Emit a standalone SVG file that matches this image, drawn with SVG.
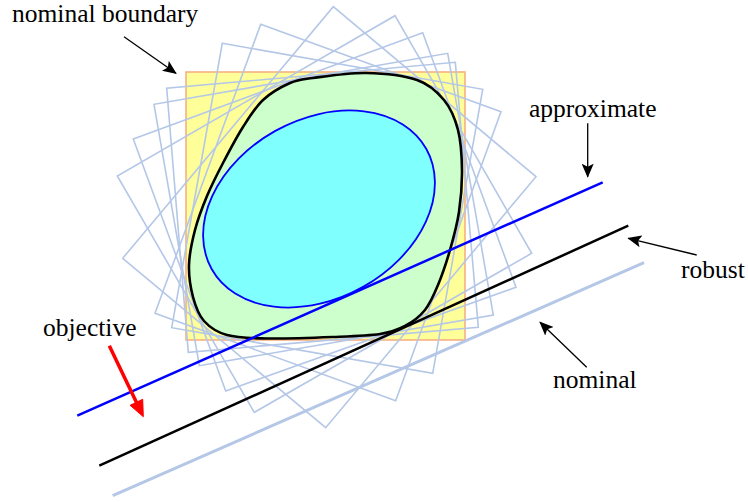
<svg xmlns="http://www.w3.org/2000/svg" width="748" height="502" viewBox="0 0 748 502">
<style>
.rot{fill:none;stroke:#b4c7e7;stroke-width:1.6;stroke-linejoin:miter}
.ptr{stroke:#000;stroke-width:1.3;fill:none}
text{font-family:"Liberation Serif","DejaVu Serif","Times New Roman",Times,serif;font-size:25.5px;fill:#000}
</style>
<defs>
<marker id="ah" markerUnits="userSpaceOnUse" markerWidth="14" markerHeight="12" viewBox="0 0 14 12" refX="13" refY="6" orient="auto">
<path d="M0,0 L14,6 L0,12 L3,6 Z" fill="#000"/>
</marker>
</defs>
<g id="nominal-set">
<rect x="186" y="72" width="279" height="268" fill="#ffff99" stroke="#f4b183" stroke-width="1.6"/>
</g>
<g id="perturbed-sets">
<polygon class="rot" points="333.3,6.7 536,176.7 325.7,427.7 122.7,258.3"/>
<polygon class="rot" points="395,15.7 531.7,253.3 254.3,412.3 117.3,176"/>
<polygon class="rot" points="260.7,24.3 501,111.7 395.7,400.7 155,313.3"/>
<polygon class="rot" points="422.7,32.7 516,287.3 225.7,391 133.3,139"/>
<polygon class="rot" points="222.3,43.3 482.7,89.3 432.7,373.3 171.7,327.7"/>
<polygon class="rot" points="447.7,53.3 493.3,315 199.3,365.7 154,104.3"/>
<polygon class="rot" points="455.3,62.3 478.3,327.3 188.3,352.3 166.7,88.3"/>
</g>
<g id="robust-set">
<path fill="#ccffcc" stroke="#000" stroke-width="2.6" d="M366,73 C383.33,73.33 404,75.5 417,80 C430,84.5 437.17,91.67 444,100 C450.83,108.33 455,118.33 458,130 C461,141.67 461.83,156.33 462,170 C462.17,183.67 461,198.67 459,212 C457,225.33 453.5,237.83 450,250 C446.5,262.17 442.17,275 438,285 C433.83,295 430.5,303.17 425,310 C419.5,316.83 412.5,322 405,326 C397.5,330 392,332.17 380,334 C368,335.83 351.83,336.25 333,337 C314.17,337.75 284.67,338.83 267,338.5 C249.33,338.17 237.5,337.92 227,335 C216.5,332.08 209.67,327.33 204,321 C198.33,314.67 195.5,306.33 193,297 C190.5,287.67 188.67,276.17 189,265 C189.33,253.83 192,241.5 195,230 C198,218.5 202.33,207.17 207,196 C211.67,184.83 217,174.5 223,163 C229,151.5 236.33,137.5 243,127 C249.67,116.5 255.17,107.33 263,100 C270.83,92.67 281.67,86.67 290,83 C298.33,79.33 300.33,79.67 313,78 C325.67,76.33 348.67,72.67 366,73 Z"/>
</g>
<g id="approx-set">
<ellipse cx="319" cy="209" rx="123" ry="89.5" transform="rotate(-29.2 319 209)" fill="#80ffff" stroke="#0000ff" stroke-width="1.8"/>
</g>
<g id="connectors">
<line x1="77.3" y1="415.7" x2="602.7" y2="182.3" stroke="#0000ff" stroke-width="2.5"/>
<line x1="99.3" y1="465.7" x2="628.3" y2="225.7" stroke="#000" stroke-width="2.5"/>
<line x1="112.7" y1="495.7" x2="644" y2="262.7" stroke="#b4c7e7" stroke-width="3"/>
<line x1="109.3" y1="345.7" x2="137" y2="403.5" stroke="#ff0000" stroke-width="3.5"/>
<polygon points="143.3,416.7 130.1,405.3 142.7,399.3" fill="#ff0000" stroke="#ff0000" stroke-width="1"/>
<line class="ptr" x1="124" y1="36.7" x2="176" y2="73.3" marker-end="url(#ah)"/>
<line class="ptr" x1="587.7" y1="123.3" x2="587.7" y2="176.7" marker-end="url(#ah)"/>
<line class="ptr" x1="696.7" y1="255" x2="628.3" y2="238.3" marker-end="url(#ah)"/>
<line class="ptr" x1="586.7" y1="367.3" x2="540" y2="322.3" marker-end="url(#ah)"/>
</g>
<g id="labels">
<text x="12" y="22">nominal boundary</text>
<text x="529" y="117">approximate</text>
<text x="681" y="278">robust</text>
<text x="553" y="388">nominal</text>
<text x="43" y="336">objective</text>
</g>
</svg>
